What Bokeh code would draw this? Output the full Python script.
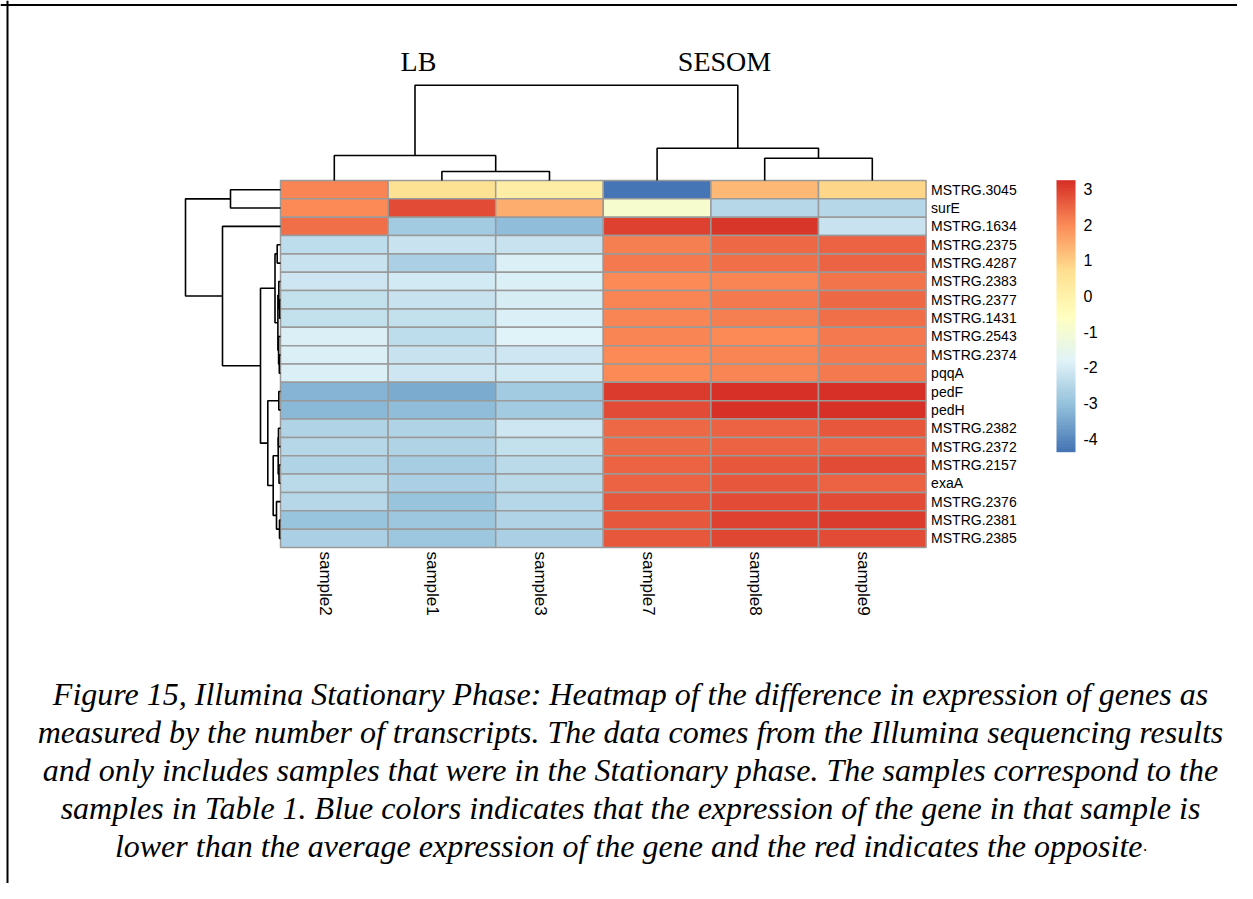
import numpy as np
from bokeh.plotting import figure
from bokeh.models import (Range1d, ColorBar, LinearColorMapper, FixedTicker, Span,
                          ColumnDataSource, CustomJSTickFormatter)
from bokeh.transform import transform
from bokeh.core.properties import value
from bokeh.embed import file_html
from bokeh.resources import INLINE

# ---------------- data ----------------
genes = ["MSTRG.3045", "surE", "MSTRG.1634", "MSTRG.2375", "MSTRG.4287", "MSTRG.2383",
         "MSTRG.2377", "MSTRG.1431", "MSTRG.2543", "MSTRG.2374", "pqqA", "pedF", "pedH",
         "MSTRG.2382", "MSTRG.2372", "MSTRG.2157", "exaA", "MSTRG.2376", "MSTRG.2381", "MSTRG.2385"]
samples = ["sample2", "sample1", "sample3", "sample7", "sample8", "sample9"]
groups = ["LB", "SESOM"]

sample2 = [2.1, 2.0, 2.35, -2.35, -2.2, -2.15, -2.25, -2.3, -1.9, -1.9, -1.9, -3.25, -3.2,
           -2.55, -2.5, -2.55, -2.45, -2.5, -3.0, -2.7]
sample1 = [0.6, 2.8, -2.8, -2.2, -2.65, -2.05, -2.2, -2.3, -2.35, -2.2, -2.15, -3.4, -3.1,
           -2.55, -2.55, -2.75, -2.7, -3.0, -2.9, -2.9]
sample3 = [0.15, 1.45, -3.1, -2.2, -1.9, -1.9, -1.95, -1.9, -1.85, -2.1, -2.05, -2.85, -2.85,
           -2.1, -2.25, -2.4, -2.4, -2.5, -2.55, -2.65]
sample7 = [-4.38, -0.9, 3.0, 2.15, 2.25, 2.0, 2.1, 2.1, 2.1, 2.0, 2.0, 3.05, 2.85,
           2.45, 2.45, 2.5, 2.5, 2.65, 2.65, 2.65]
sample8 = [1.3, -2.5, 3.1, 2.45, 2.35, 2.1, 2.2, 2.15, 2.0, 2.1, 2.1, 3.2, 3.2,
           2.5, 2.5, 2.65, 2.65, 2.8, 2.95, 2.9]
sample9 = [0.88, -2.5, -2.2, 2.5, 2.5, 2.3, 2.45, 2.35, 2.25, 2.2, 2.25, 3.2, 3.25,
           2.65, 2.55, 2.8, 2.5, 2.8, 3.05, 2.85]

# row dendrogram (leaves = displayed row order 0..19, merge k has id 20+k)
row_merge_a = [0, 3, 6, 5, 9, 8, 23, 21, 11, 13, 15, 29, 18, 17, 31, 28, 27, 2, 20]
row_merge_b = [1, 4, 7, 22, 10, 24, 25, 26, 12, 14, 16, 30, 19, 32, 33, 34, 35, 36, 37]
row_merge_h = [50, 3.3, 1.0, 1.7, 1.2, 1.9, 2.6, 5.5, 1.7, 2.0, 1.5, 2.3, 1.0, 4.0, 7.3, 12.7, 20, 58, 95]

# column dendrogram (leaves = displayed column order 0..5, merge k has id 6+k)
col_merge_a = [1, 0, 4, 3, 7]
col_merge_b = [2, 6, 5, 8, 9]
col_merge_h = [9, 25, 22.3, 32.3, 95.3]

caption_lines = [
    "Figure 15, Illumina Stationary Phase: Heatmap of the difference in expression of genes as",
    "measured by the number of transcripts. The data comes from the Illumina sequencing results",
    "and only includes samples that were in the Stationary phase. The samples correspond to the",
    "samples in Table 1. Blue colors indicates that the expression of the gene in that sample is",
    "lower than the average expression of the gene and the red indicates the opposite",
]
caption_end = "."
legend_ticks = [-4, -3, -2, -1, 0, 1, 2, 3]

# ---------------- layout ----------------
W, H = 1237, 883
OX, OY = 0, 0
HM_LEFT, HM_TOP = 280.0, 180.0
CELL_W, CELL_H = 107.6, 18.35
ROW_TREE_PX, COL_TREE_PX = 95.0, 95.3


def px2x(px):
    return (px - HM_LEFT) / CELL_W


def py2y(py):
    return (py - HM_TOP) / CELL_H


p = figure(width=W, height=H, output_backend="svg", toolbar_location=None,
           x_range=Range1d(px2x(OX), px2x(OX + W)),
           y_range=Range1d(py2y(OY + H), py2y(OY)),
           min_border=0, outline_line_color=None,
           x_axis_location=None, y_axis_location=None)
p.grid.visible = False
p.background_fill_color = "white"

# palette: rev(RdYlBu 7) interpolated to 100
stops = ["#4575B4", "#91BFDB", "#E0F3F8", "#FFFFBF", "#FEE090", "#FC8D59", "#D73027"]
rgb = np.array([[int(s[i:i + 2], 16) for i in (1, 3, 5)] for s in stops], dtype=float)
t = np.linspace(0, 1, 100)
pos = np.linspace(0, 1, len(stops))
pal = []
for tt in t:
    r = np.interp(tt, pos, rgb[:, 0]); g = np.interp(tt, pos, rgb[:, 1]); b = np.interp(tt, pos, rgb[:, 2])
    pal.append("#%02x%02x%02x" % (int(round(r)), int(round(g)), int(round(b))))

mat = np.array([sample2, sample1, sample3, sample7, sample8, sample9])  # (6, 20)
mapper = LinearColorMapper(palette=pal, low=float(mat.min()), high=float(mat.max()))

ci, ri = np.meshgrid(np.arange(len(samples)), np.arange(len(genes)), indexing="ij")
src = ColumnDataSource(dict(left=ci.ravel(), right=ci.ravel() + 1,
                            top=ri.ravel(), bottom=ri.ravel() + 1, v=mat.ravel()))
p.quad(left="left", right="right", top="top", bottom="bottom", source=src,
       fill_color=transform("v", mapper), line_color="#9a9a9a", line_width=1.5)


def tree_segments(n, a_list, b_list, h_list):
    posd = {i: (i + 0.5, 0.0) for i in range(n)}
    xs, ys = [], []
    for k, (a, b, h) in enumerate(zip(a_list, b_list, h_list)):
        pa, ha = posd[a]
        pb, hb = posd[b]
        xs.append([pa, pa, pb, pb])
        ys.append([ha, h, h, hb])
        posd[n + k] = ((pa + pb) / 2.0, h)
    return xs, ys, posd


# column tree (above)
cx, ch, cpos = tree_segments(len(samples), col_merge_a, col_merge_b, col_merge_h)
cscale = COL_TREE_PX / max(col_merge_h) / CELL_H
p.multi_line(xs=cx, ys=[[-v * cscale for v in seg] for seg in ch], line_color="black",
             line_width=1.6)

# row tree (left)
rpos_, rh, rpos = tree_segments(len(genes), row_merge_a, row_merge_b, row_merge_h)
rscale = ROW_TREE_PX / max(row_merge_h) / CELL_W
p.multi_line(xs=[[-v * rscale for v in seg] for seg in rh], ys=rpos_, line_color="black",
             line_width=1.6)

# row labels
p.text(x=[len(samples)] * len(genes), y=[i + 0.5 for i in range(len(genes))], text=genes,
       x_offset=5, text_baseline="middle", text_align="left", text_font_size="14px",
       text_font=value("Liberation Sans"), text_color="black")

# column labels
p.text(x=[i + 0.5 for i in range(len(samples))], y=[len(genes)] * len(samples), text=samples,
       angle=-np.pi / 2, x_offset=-9, y_offset=4, text_baseline="middle", text_align="left",
       text_font_size="17px", text_font=value("Liberation Sans"), text_color="black")

# group labels
p.text(x=[px2x(418), px2x(724)], y=[py2y(61)] * 2, text=groups, text_align="center",
       text_baseline="middle", text_font_size="28px", text_font=value("Liberation Serif"),
       text_color="black")

# caption
cap_y = [py2y(693 + 38 * i) for i in range(len(caption_lines))]
p.text(x=[px2x(630)] * 4, y=cap_y[:4], text=caption_lines[:4], text_align="center",
       text_baseline="alphabetic", text_font_size="32px", text_font=value("Liberation Serif"),
       text_font_style="italic", text_color="black")
p.text(x=[px2x(1142)], y=[cap_y[4]], text=[caption_lines[4]], text_align="right",
       text_baseline="alphabetic", text_font_size="32px", text_font=value("Liberation Serif"),
       text_font_style="italic", text_color="black")
p.text(x=[px2x(1143)], y=[cap_y[4]], text=[caption_end], text_align="left",
       text_baseline="alphabetic", text_font_size="16px", text_font=value("Liberation Serif"),
       text_font_style="italic", text_color="black")

# colour legend
cb = ColorBar(color_mapper=mapper, location=(1056 - OX, (OY + H) - 451.7), width=19, height=272,
              padding=0, margin=0, ticker=FixedTicker(ticks=legend_ticks),
              formatter=CustomJSTickFormatter(code="return tick.toString()"),
              major_tick_line_color=None, bar_line_color=None, border_line_color=None,
              background_fill_alpha=0, label_standoff=8,
              major_label_text_font_size="16px", major_label_text_font="Liberation Sans",
              major_label_text_color="black")
p.add_layout(cb)

# page frame lines
p.add_layout(Span(location=px2x(7), dimension="height", line_color="black", line_width=2))
p.add_layout(Span(location=py2y(4.5), dimension="width", line_color="black", line_width=2))

open("out.html", "w").write(file_html(p, INLINE))
